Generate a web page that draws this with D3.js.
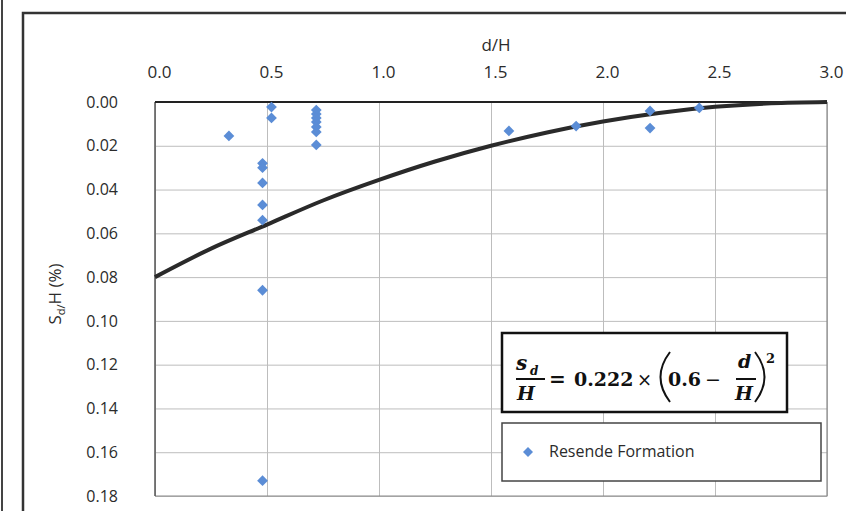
<!DOCTYPE html>
<html lang="en">
<head>
<meta charset="UTF-8">
<title>Settlement vs distance</title>
<style>
  body { margin: 0; background: #fff; }
  text { font-family: "Open Sans", sans-serif; fill: #2b2b2b; }
  text.math { font-family: "DejaVu Serif", serif; fill: #111; }
</style>
</head>
<body>
<svg id="svg" width="846" height="511"></svg>
<script src="https://d3js.org/d3.v7.min.js"></script>
<script>
// ------ DATA ------------------------
const xTicks = [0, 0.5, 1.0, 1.5, 2.0, 2.5, 3.0]
const yTicks = [0, 0.02, 0.04, 0.06, 0.08, 0.10, 0.12, 0.14, 0.16, 0.18]

// Resende Formation measurements (d/H, Sd/H)
const pointX = [0.33, 0.48, 0.48, 0.48, 0.48, 0.48, 0.48, 0.48, 0.52, 0.52,
  0.72, 0.72, 0.72, 0.72, 0.72, 0.72, 0.72, 1.58, 1.88, 2.21, 2.21, 2.43]
const pointY = [0.0155, 0.028, 0.030, 0.037, 0.047, 0.054, 0.086, 0.173, 0.0023, 0.0073,
  0.0037, 0.0055, 0.0073, 0.0091, 0.0114, 0.0137, 0.0196, 0.0132, 0.0110, 0.0041, 0.0119, 0.0027]

// fitted curve
const curveX = [0, 0.25, 0.5, 0.75, 1.0, 1.25, 1.5, 1.75, 2.0, 2.25, 2.5, 2.75, 3.0]
const curveY = [0.080, 0.067, 0.056, 0.045, 0.0356, 0.0272, 0.020, 0.0139, 0.0089, 0.0050, 0.0022, 0.0006, 0.0]

const points = pointX.map((x, i) => ({ x: x, y: pointY[i] }))
const curve = curveX.map((x, i) => ({ x: x, y: curveY[i] }))

// ------ LAYOUT ------------------------
const plotLeft = 155, plotRight = 827, plotTop = 102, plotBottom = 496
const svg = d3.select('#svg')

const xscale = d3.scaleLinear().domain([0, 3]).range([plotLeft, plotRight])
const yscale = d3.scaleLinear().domain([0, 0.18]).range([plotTop, plotBottom])

// outer frame (scanned page look)
svg.append('line').attr('x1', 2).attr('x2', 2).attr('y1', 0).attr('y2', 511)
  .attr('stroke', '#444').attr('stroke-width', 2)
svg.append('path').attr('d', 'M23,511 V13 H846')
  .attr('fill', 'none').attr('stroke', '#333').attr('stroke-width', 2.5)

// ------ GRID ------------------------
svg.append('g')
  .attr('transform', `translate(0, ${plotBottom})`)
  .call(d3.axisBottom(xscale).tickValues(xTicks).tickSize(-(plotBottom - plotTop)).tickFormat(''))
  .call(g => g.select('.domain').remove())
  .call(g => g.selectAll('line').attr('stroke', '#bdbdbd'))

svg.append('g')
  .attr('transform', `translate(${plotLeft}, 0)`)
  .call(d3.axisLeft(yscale).tickValues(yTicks).tickSize(-(plotRight - plotLeft)).tickFormat(''))
  .call(g => g.select('.domain').remove())
  .call(g => g.selectAll('line').attr('stroke', '#bdbdbd'))

// plot border
svg.append('path').attr('d', `M${plotRight},${plotTop} V${plotBottom} H${plotLeft}`)
  .attr('fill', 'none').attr('stroke', '#8a8a8a').attr('stroke-width', 1.2)
svg.append('line').attr('x1', plotLeft).attr('x2', plotLeft).attr('y1', plotTop).attr('y2', plotBottom)
  .attr('stroke', '#555').attr('stroke-width', 1.5)
svg.append('line').attr('x1', plotLeft).attr('x2', plotRight).attr('y1', plotTop).attr('y2', plotTop)
  .attr('stroke', '#222').attr('stroke-width', 2)

// ------ AXES ------------------------
svg.append('g')
  .attr('transform', `translate(4, 78)`)
  .call(d3.axisTop(xscale).tickValues(xTicks).tickSize(0).tickPadding(0).tickFormat(d3.format('.1f')))
  .call(g => g.select('.domain').remove())
  .call(g => g.selectAll('text').style('font-size', '17px'))

svg.append('g')
  .attr('transform', `translate(118, 0)`)
  .call(d3.axisLeft(yscale).tickValues(yTicks).tickSize(0).tickPadding(0).tickFormat(d3.format('.2f')))
  .call(g => g.select('.domain').remove())
  .call(g => g.selectAll('text').style('font-size', '16px'))

// axis titles
svg.append('text').attr('x', 496).attr('y', 51).attr('text-anchor', 'middle')
  .style('font-size', '17px').text('d/H')

const ylab = svg.append('text')
  .attr('transform', 'translate(61, 294) rotate(-90)')
  .attr('text-anchor', 'middle').style('font-size', '17px')
ylab.append('tspan').text('S')
ylab.append('tspan').style('font-size', '11px').attr('dy', 4).text('d/')
ylab.append('tspan').attr('dy', -4).text('H (%)')

// ------ CURVE ------------------------
const line = d3.line()
  .x(d => xscale(d.x))
  .y(d => yscale(d.y))
  .curve(d3.curveCatmullRom)

svg.append('path').datum(curve)
  .attr('d', line)
  .attr('fill', 'none').attr('stroke', '#2a2a2a').attr('stroke-width', 4)

// ------ POINTS ------------------------
const diamond = d3.symbol().type(d3.symbolSquare).size(58)
svg.append('g').selectAll('path')
  .data(points)
  .enter()
  .append('path')
  .attr('d', diamond)
  .attr('transform', d => `translate(${xscale(d.x)}, ${yscale(d.y)}) rotate(45)`)
  .attr('fill', '#5b8dd6')

// ------ EQUATION BOX ------------------------
const eq = svg.append('g')
eq.append('rect').attr('x', 502).attr('y', 333).attr('width', 285).attr('height', 79)
  .attr('fill', '#fff').attr('stroke', '#111').attr('stroke-width', 2.5)

function eqText(x, y, s, size, italic, bold = true) {
  eq.append('text').attr('class', 'math').attr('x', x).attr('y', y)
    .style('font-size', size + 'px').style('font-weight', bold ? 'bold' : 'normal')
    .style('font-style', italic ? 'italic' : 'normal')
    .text(s)
}
eqText(516, 370, 's', 20, true)
eqText(530, 375, 'd', 12, true)
eq.append('line').attr('x1', 516).attr('x2', 545).attr('y1', 379).attr('y2', 379)
  .attr('stroke', '#111').attr('stroke-width', 2)
eqText(517, 400, 'H', 19, true)
eqText(549, 386, '=', 20, false)
eqText(574, 386, '0.222', 19, false)
eqText(637, 386, '×', 18, false, false)
eq.append('path').attr('d', 'M670,352 Q651,377 670,402')
  .attr('fill', 'none').attr('stroke', '#111').attr('stroke-width', 2)
eqText(668, 386, '0.6', 19, false)
eqText(705, 386, '−', 19, false, false)
eqText(738, 368, 'd', 19, true)
eq.append('line').attr('x1', 736).attr('x2', 756).attr('y1', 379).attr('y2', 379)
  .attr('stroke', '#111').attr('stroke-width', 2)
eqText(735, 400, 'H', 19, true)
eq.append('path').attr('d', 'M755,352 Q774,377 755,402')
  .attr('fill', 'none').attr('stroke', '#111').attr('stroke-width', 2)
eqText(766, 363, '2', 13, false)

// ------ LEGEND ------------------------
const legend = svg.append('g')
legend.append('rect').attr('x', 502).attr('y', 423).attr('width', 319).attr('height', 58)
  .attr('fill', '#fff').attr('stroke', '#444').attr('stroke-width', 1.5)
legend.append('path').attr('d', d3.symbol().type(d3.symbolSquare).size(50))
  .attr('transform', 'translate(528, 452) rotate(45)').attr('fill', '#5b8dd6')
legend.append('text').attr('x', 549).attr('y', 457).style('font-size', '16px')
  .text('Resende Formation')
</script>
</body>
</html>
